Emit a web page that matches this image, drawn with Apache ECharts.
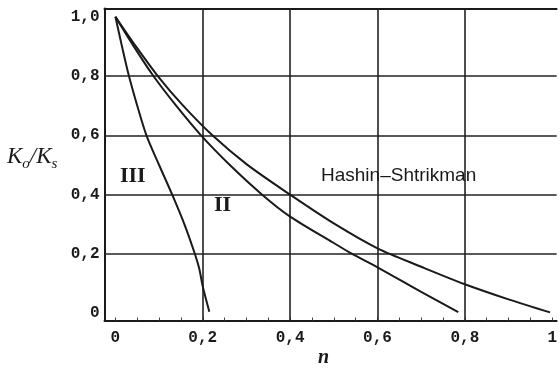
<!DOCTYPE html>
<html>
<head>
<meta charset="utf-8">
<script src="https://cdn.jsdelivr.net/npm/echarts@6/dist/echarts.min.js"></script>
<style>
  html, body { margin: 0; padding: 0; background: #ffffff; }
  #chart { width: 560px; height: 370px; }
</style>
</head>
<body>
<div id="chart"></div>
<script>
// Normalised bulk modulus Ko/Ks against porosity n for three models.
const xTickValues = [0, 0.2, 0.4, 0.6, 0.8, 1];
const xTickLabels = ['0', '0,2', '0,4', '0,6', '0,8', '1'];
const yTickValues = [0, 0.2, 0.4, 0.6, 0.8, 1];
const yTickLabels = ['0', '0,2', '0,4', '0,6', '0,8', '1,0'];
const gridValues = [0.2, 0.4, 0.6, 0.8];
const minorTickValues = [0, 0.05, 0.1, 0.15, 0.2, 0.25, 0.3, 0.35, 0.4, 0.45, 0.5,
                         0.55, 0.6, 0.65, 0.7, 0.75, 0.8, 0.85, 0.9, 0.95, 1];

// [n, Ko/Ks]
const curveIII = [[0, 1], [0.015, 0.9], [0.031, 0.8], [0.05, 0.7], [0.071, 0.6],
                  [0.1, 0.5], [0.13, 0.4], [0.158, 0.3], [0.182, 0.2], [0.192, 0.15],
                  [0.2, 0.09], [0.215, 0.005]];
const curveII = [[0, 1], [0.042, 0.9], [0.087, 0.8], [0.139, 0.7], [0.196, 0.6],
                 [0.262, 0.5], [0.336, 0.4], [0.4, 0.326], [0.5, 0.237], [0.542, 0.2],
                 [0.6, 0.155], [0.7, 0.072], [0.785, 0.004]];
const curveHS = [[0, 1], [0.047, 0.9], [0.097, 0.8], [0.155, 0.7], [0.222, 0.6],
                 [0.3, 0.503], [0.4, 0.4], [0.5, 0.303], [0.6, 0.219], [0.7, 0.157],
                 [0.8, 0.098], [0.9, 0.047], [0.995, 0.003]];

const curveNames = ['III', 'II', 'Hashin–Shtrikman'];

const INK = '#1a1a1a';
const monoFont = '"Liberation Mono", "DejaVu Sans Mono", monospace';
const serifFont = '"Liberation Serif", "DejaVu Serif", serif';

function labelFor(values, labels) {
  return function (v) {
    for (let i = 0; i < values.length; i++) {
      if (Math.abs(values[i] - v) < 1e-9) return labels[i];
    }
    return '';
  };
}

function curveSeries(name, data) {
  return {
    name: name,
    type: 'line',
    data: data,
    smooth: 0.3,
    symbol: 'none',
    z: 5,
    lineStyle: { color: INK, width: 2 },
    animation: false,
    silent: true
  };
}

const chart = echarts.init(document.getElementById('chart'), null, { renderer: 'canvas' });

chart.setOption({
  backgroundColor: '#ffffff',
  animation: false,
  grid: { left: 104.5, right: 0, top: 8.5, bottom: 49.5, containLabel: false },
  xAxis: [
    {
      type: 'value',
      min: -0.025,
      max: 1.0102,
      position: 'bottom',
      axisLine: { show: true, onZero: false, lineStyle: { color: INK, width: 2 } },
      axisTick: {
        show: true, inside: true, length: 3, customValues: minorTickValues,
        lineStyle: { color: '#444', width: 1 }
      },
      splitLine: { show: false },
      axisLabel: {
        customValues: xTickValues,
        formatter: labelFor(xTickValues, xTickLabels),
        margin: 9,
        color: INK,
        fontFamily: monoFont,
        fontWeight: 'bold',
        fontSize: 16
      }
    },
    {
      type: 'value',
      min: -0.025,
      max: 1.0102,
      position: 'top',
      axisLine: { show: true, onZero: false, lineStyle: { color: INK, width: 2 } },
      axisTick: { show: false },
      axisLabel: { show: false },
      splitLine: { show: false }
    }
  ],
  yAxis: {
    type: 'value',
    min: -0.0243,
    max: 1.0277,
    axisLine: { show: true, onZero: false, lineStyle: { color: INK, width: 2 } },
    axisTick: { show: false, customValues: yTickValues },
    splitLine: { show: false },
    axisLabel: {
      customValues: yTickValues,
      formatter: labelFor(yTickValues, yTickLabels),
      margin: 5,
      color: INK,
      fontFamily: monoFont,
      fontWeight: 'bold',
      fontSize: 16
    }
  },
  series: [
    {
      name: 'grid',
      type: 'line',
      data: [],
      silent: true,
      z: 1,
      markLine: {
        silent: true,
        symbol: ['none', 'none'],
        label: { show: false },
        animation: false,
        lineStyle: { type: 'solid', color: '#222', width: 1.6 },
        data: gridValues.map(v => ({ xAxis: v })).concat(gridValues.map(v => ({ yAxis: v })))
      }
    },
    curveSeries(curveNames[0], curveIII),
    curveSeries(curveNames[1], curveII),
    curveSeries(curveNames[2], curveHS)
  ],
  graphic: [
    {
      type: 'text', left: 120, top: 165, z: 10,
      style: { text: 'III', fontFamily: serifFont, fontWeight: 'bold', fontSize: 22, fill: INK }
    },
    {
      type: 'text', left: 214, top: 194, z: 10,
      style: { text: 'II', fontFamily: serifFont, fontWeight: 'bold', fontSize: 22, fill: INK }
    },
    {
      type: 'text', left: 321, top: 166, z: 10,
      style: {
        text: 'Hashin–Shtrikman',
        fontFamily: '"Liberation Sans", Arial, sans-serif',
        fontSize: 19, fill: INK
      }
    },
    {
      type: 'text', left: 318, top: 348, z: 10,
      style: {
        text: 'n', fontFamily: serifFont, fontStyle: 'italic', fontWeight: 'bold',
        fontSize: 20, fill: INK
      }
    },
    {
      type: 'text', left: 7, top: 145, z: 10,
      style: {
        text: '{k|K}{s|o}{k|/K}{s|s}',
        rich: {
          k: { fontFamily: serifFont, fontStyle: 'italic', fontSize: 23, lineHeight: 30, fill: INK, color: INK },
          s: { fontFamily: serifFont, fontStyle: 'italic', fontSize: 15, lineHeight: 15, verticalAlign: 'bottom', fill: INK, color: INK }
        }
      }
    }
  ]
});
</script>
</body>
</html>
